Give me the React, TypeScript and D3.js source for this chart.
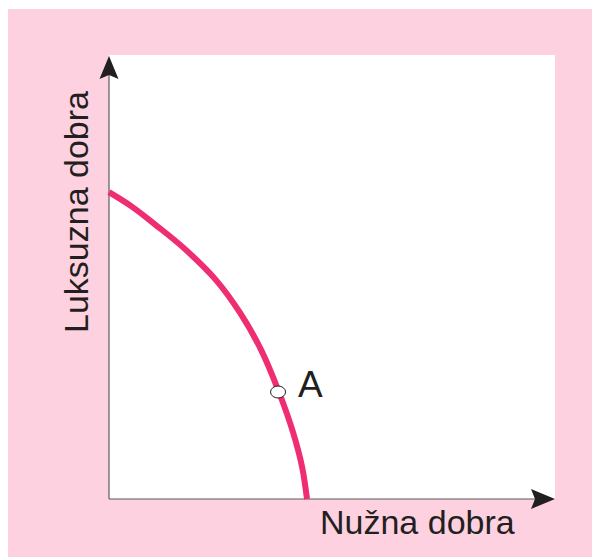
import React from 'react';
import * as d3 from 'd3';

// frontier points (units of output)
const necessityGoods = [0, 0.52, 1.05, 1.68, 2.4, 2.94, 3.41, 3.81, 4.13, 4.33, 4.44];
const luxuryGoods = [6.91, 6.58, 6.17, 5.65, 4.93, 4.19, 3.36, 2.41, 1.49, 0.72, 0];
const pointA = { label: 'A', x: 3.79, y: 2.41 };
const xTitle = 'Nužna dobra';
const yTitle = 'Luksuzna dobra';

const W = 592;
const H = 549;
const ink = '#231F20';

const App = () => {
  const x = d3.scaleLinear().domain([0, 10]).range([101, 547]);
  const y = d3.scaleLinear().domain([0, 10]).range([491, 47]);

  const pts = necessityGoods.map((v, i) => [v, luxuryGoods[i]] as [number, number]);
  const line = d3.line<[number, number]>()
    .x(d => x(d[0]))
    .y(d => y(d[1]))
    .curve(d3.curveCatmullRom.alpha(0.5));

  const x0 = x(0), y0 = y(0), xEnd = x.range()[1], yEnd = y.range()[1];

  return (
    <svg width={W} height={H} style={{ display: 'block' }}>
      <rect x={0} y={1} width={W} height={H - 1} fill="#FDD1E0" />
      <rect x={x0} y={yEnd} width={xEnd - x0} height={y0 - yEnd} fill="#fff" />
      {/* axes */}
      <line x1={x0} y1={y0} x2={x0} y2={yEnd + 20} stroke="#5b5b5b" strokeWidth={1.2} />
      <line x1={x0} y1={y0} x2={xEnd - 20} y2={y0} stroke="#5b5b5b" strokeWidth={1.2} />
      <path d={`M${x0},${yEnd + 1} L${x0 + 9.5},${yEnd + 24} L${x0},${yEnd + 20} L${x0 - 9.5},${yEnd + 24} Z`} fill={ink} />
      <path d={`M${xEnd},${y0} L${xEnd - 24},${y0 - 10} L${xEnd - 20},${y0} L${xEnd - 24},${y0 + 10} Z`} fill={ink} />
      {/* frontier */}
      <path d={line(pts) || ''} fill="none" stroke="#EF2D72" strokeWidth={6} />
      <ellipse cx={x(pointA.x)} cy={y(pointA.y)} rx={7.5} ry={6} fill="#fff" stroke={ink} strokeWidth={1} />
      <g fontFamily="'Liberation Sans', Arial, sans-serif" fill={ink}>
        <text x={x(pointA.x) + 20} y={y(pointA.y) + 5} fontSize={37}>{pointA.label}</text>
        <text x={312} y={526} fontSize={34}>{xTitle}</text>
        <text transform="translate(80,204) rotate(-90)" textAnchor="middle" fontSize={34}>{yTitle}</text>
      </g>
    </svg>
  );
};

export default App;
